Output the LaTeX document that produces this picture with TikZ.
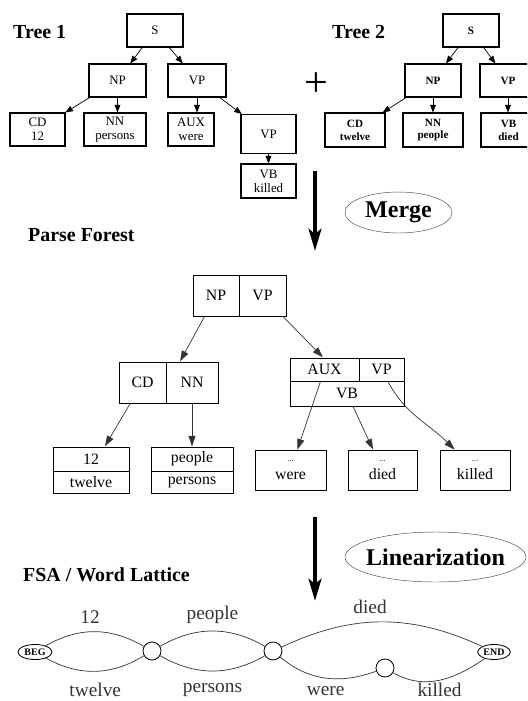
\documentclass[tikz,border=0pt]{standalone}
\usepackage{fontspec}
\setmainfont{Liberation Serif}
\usetikzlibrary{arrows.meta, positioning, fit, shapes.geometric}

\begin{document}
\begin{tikzpicture}[x=0.03cm, y=0.03cm, arro/.style = {-{Triangle[length=6.5pt,width=5pt]}, line width=0.6pt},
  parro/.style = {-{Triangle[length=9pt,width=6pt]}, line width=0.6pt, black!80},
  bigarro/.style = {line width=4pt, -{Stealth[length=0.66cm,width=0.38cm,inset=0.15cm]}}]

\tikzstyle{title} = [anchor=west, inner sep=0pt, font=\fontsize{17}{20}\selectfont\bfseries]
\tikzstyle{tbox} = [draw, line width=0.9pt, minimum height=0.99cm, align=center, inner sep=1pt, font=\fontsize{11}{12}\selectfont]
\tikzstyle{tboxb} = [tbox, font=\fontsize{9.5}{11}\selectfont\bfseries]
\tikzstyle{cell} = [draw, line width=0.8pt, inner sep=0pt, font=\fontsize{13.5}{15}\selectfont]
\tikzstyle{leaf} = [cell, align=center, minimum height=1.2cm]
\tikzstyle{frame} = [inner sep=0pt]
\tikzstyle{oper} = [draw, ellipse, black!70, inner sep=0pt, text=black, font=\fontsize{20.5}{24}\selectfont\bfseries]
\tikzstyle{state} = [draw, circle, minimum size=0.54cm, inner sep=0pt, line width=0.7pt]
\tikzstyle{term} = [draw, ellipse, minimum width=1.02cm, minimum height=0.45cm, inner sep=0pt, line width=0.7pt, font=\fontsize{8.5}{9}\selectfont\bfseries]
\tikzstyle{lbl} = [font=\fontsize{16.5}{18}\selectfont]
\tikzstyle{arc} = [line width=0.6pt, black!80]

\clip (0,0) rectangle (527,-701);

% tree 1
\node[title] at (13,-32) (t1) {Tree 1};
\node[tbox, minimum width=1.68cm] at (155,-30.5) (s1) {S};
\node[tbox, minimum width=1.71cm] at (117.5,-80.5) (np1) {NP};
\node[tbox, minimum width=1.74cm] at (197,-80.5) (vp1) {VP};
\node[tbox, minimum width=1.65cm] at (37.5,-129.5) (cd1) {CD\\12};
\node[tbox, minimum width=1.86cm] at (115,-129.5) (nn1) {NN\\persons};
\node[tbox, minimum width=1.38cm] at (191,-129.5) (aux1) {AUX\\were};
\node[tbox, minimum width=1.65cm, minimum height=1.17cm] at (268.5,-134) (vpb1) {VP};
\node[tbox, minimum width=1.65cm, minimum height=1.02cm] at (268.5,-181) (vb1) {VB\\killed};
% connections
\draw[arro] (s1) -- (np1);
\draw[arro] (s1) -- (vp1);
\draw[arro] (np1) -- (cd1);
\draw[arro] (np1) -- (np1 |- nn1.north);
\draw[arro] (vp1) -- (vp1 |- aux1.north);
\draw[arro] (vp1) -- (vpb1);
\draw[arro] (vpb1) -- (vb1);

% tree 2
\node[font=\fontsize{36}{36}\selectfont, inner sep=0pt] at (316,-85) (plus) {+};
\node[title] at (332,-32) (t2) {Tree 2};
\node[tboxb, minimum width=1.68cm] at (471,-30.5) (s2) {S};
\node[tboxb, minimum width=1.68cm] at (433,-80.5) (np2) {NP};
\node[tboxb, minimum width=1.68cm] at (508,-80.5) (vp2) {VP};
\node[tboxb, minimum width=1.8cm, minimum height=1.02cm] at (355,-130) (cd2) {CD\\twelve};
\node[tboxb, minimum width=1.8cm, minimum height=1.02cm] at (433,-130) (nn2) {NN\\people};
\node[tboxb, minimum width=1.65cm, minimum height=1.02cm] at (508.5,-130) (vb2) {VB\\died};
% connections
\draw[arro] (s2) -- (np2);
\draw[arro] (s2) -- (vp2);
\draw[arro] (np2) -- (cd2);
\draw[arro] (np2) -- (nn2);
\draw[arro] (vp2) -- (vp2 |- vb2.north);

% merge
\coordinate (a1s) at (315,-171);
\coordinate (a1e) at (315,-251);
\draw[bigarro] (a1s) -- (a1e);
\node[oper, minimum width=3.21cm, minimum height=1.23cm] at (398.5,-212.5) (merge) {\makebox[0pt]{Merge}};

% parse forest
\node[title] at (28,-235) (pf) {Parse Forest};
\node[cell, minimum width=1.38cm, minimum height=1.23cm] at (216,-295.5) (pnp) {NP};
\node[cell, minimum width=1.41cm, minimum height=1.23cm] at (262.5,-295.5) (pvp) {VP};
\node[cell, minimum width=1.41cm, minimum height=1.23cm] at (142.5,-382.5) (pcd) {CD};
\node[cell, minimum width=1.56cm, minimum height=1.23cm] at (192,-382.5) (pnn) {NN};
\node[frame, fit=(pcd)(pnn)] (pcdnn) {};
\node[cell, minimum width=2.07cm, minimum height=0.69cm] at (324.5,-369.5) (paux) {AUX};
\node[cell, minimum width=1.35cm, minimum height=0.69cm] at (381.5,-369.5) (pvpb) {VP};
\node[cell, minimum width=3.42cm, minimum height=0.75cm] at (347,-393.5) (pvb) {VB};
\node[frame, fit=(paux)(pvpb)(pvb)] (pauxvb) {};
% leaves
\node[cell, minimum width=2.28cm, minimum height=0.72cm] at (91,-459) (l12) {12};
\node[cell, minimum width=2.28cm, minimum height=0.66cm] at (91,-482) (ltw) {twelve};
\node[frame, fit=(l12)(ltw)] (ltwelve) {};
\node[cell, minimum width=2.46cm, minimum height=0.72cm] at (192,-459) (lpe) {people};
\node[cell, minimum width=2.46cm, minimum height=0.66cm] at (192,-482) (lps) {persons};
\node[frame, fit=(lpe)(lps)] (lpeople) {};
\node[leaf, minimum width=2.13cm] at (290.5,-470) (lwere) {{\fontsize{7}{8}\selectfont ...}\\were};
\node[leaf, minimum width=2.07cm] at (382.5,-470) (ldied) {{\fontsize{7}{8}\selectfont ...}\\died};
\node[leaf, minimum width=2.1cm] at (475,-470) (lkilled) {{\fontsize{7}{8}\selectfont ...}\\killed};
% connections
\draw[parro] (pnp) -- (pcdnn);
\draw[parro] (pvp) -- (pauxvb);
\draw[parro] (pcd) -- (ltwelve);
\draw[parro] (pnn) -- (lpeople);
\draw[parro] (paux) -- (lwere);
\draw[parro] (pvb) -- (ldied);
\draw[parro] (pvpb) to[out=-62, in=135] (lkilled);

% linearization
\coordinate (a2s) at (315,-517);
\coordinate (a2e) at (315,-601);
\draw[bigarro] (a2s) -- (a2e);
\node[oper, minimum width=5.43cm, minimum height=1.5cm] at (435.5,-557) (lin) {\makebox[0pt]{Linearization}};

% word lattice
\node[title] at (23,-575) (fsa) {FSA / Word Lattice};
\node[term] at (35,-652) (beg) {BEG};
\node[state] at (152,-651) (q1) {};
\node[state] at (273,-651) (q2) {};
\node[state] at (385,-668) (q3) {};
\node[term, minimum width=0.98cm] at (494,-652) (end) {END};
% arcs
\draw[arc] (beg) to[bend left=30] node[lbl, above=3pt, xshift=-4pt] {12} (q1);
\draw[arc] (beg) to[bend right=30] node[lbl, below=6.5pt] {twelve} (q1);
\draw[arc] (q1) to[bend left=30] node[lbl, above=3pt] {people} (q2);
\draw[arc] (q1) to[bend right=30] node[lbl, below=6.5pt] {persons} (q2);
\draw[arc] (q2) to[bend left=25] node[lbl, above=3pt, xshift=-10pt] {died} (end);
\draw[arc] (q2) to[out=-40, in=200] node[lbl, below=3pt] {were} (q3);
\draw[arc] (q3) to[out=-30, in=215] node[lbl, inner sep=1pt, below=1pt] {killed} (end);
\end{tikzpicture}
\end{document}
